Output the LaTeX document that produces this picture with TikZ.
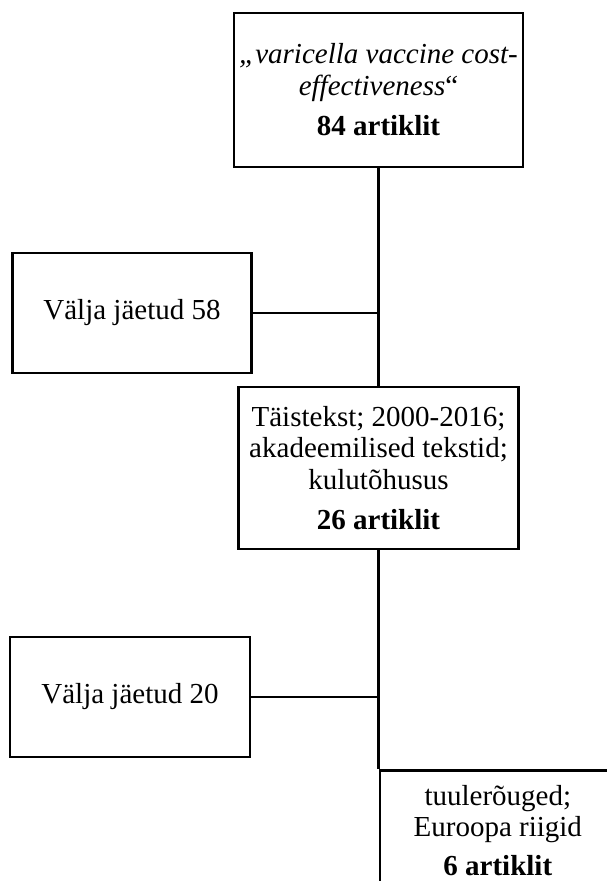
\documentclass[tikz,border=0pt]{standalone}
\usepackage{fontspec}
\setmainfont{Liberation Serif}
\usepackage{tikz}
\usetikzlibrary{positioning}

\begin{document}
\begin{tikzpicture}[x=1pt,y=-1pt,
  box/.style={draw, line width=2.6pt, align=center, inner sep=0pt,
    font=\fontsize{29}{31.5}\selectfont},
  link/.style={line width=2.6pt}]

% Page size
\path[use as bounding box, clip] (0,0) rectangle (607,881);

% Draw boxes
\node[box, minimum width=289pt, minimum height=154pt] (search) at (378.5,90)
  {{\itshape „varicella vaccine cost-}\\{\itshape effectiveness}“\\[9pt]\textbf{84 artiklit}};
\node[box, minimum width=239pt, minimum height=120pt] (out1) at (132,313)
  {Välja jäetud 58};
\node[box, minimum width=280pt, minimum height=162pt] (filter) at (378.5,468)
  {Täistekst; 2000-2016;\\akadeemilised tekstid;\\kulutõhusus\\[9pt]\textbf{26 artiklit}};
\node[box, minimum width=240pt, minimum height=120pt] (out2) at (130,697)
  {Välja jäetud 20};
\node[box, anchor=north west, minimum width=236pt, minimum height=120pt] (final) at (378.5,769)
  {tuulerõuged;\\Euroopa riigid\\[7pt]\textbf{6 artiklit}};

% Draw connectors
\coordinate (j1) at (search.south |- out1.east);
\coordinate (j2) at (filter.south |- out2.east);
\draw[link] (search.south) -- (filter.north);
\draw[link] (out1.east) -- (j1);
\draw[link] (filter.south) -- (final.north west);
\draw[link] (out2.east) -- (j2);

\end{tikzpicture}
\end{document}
